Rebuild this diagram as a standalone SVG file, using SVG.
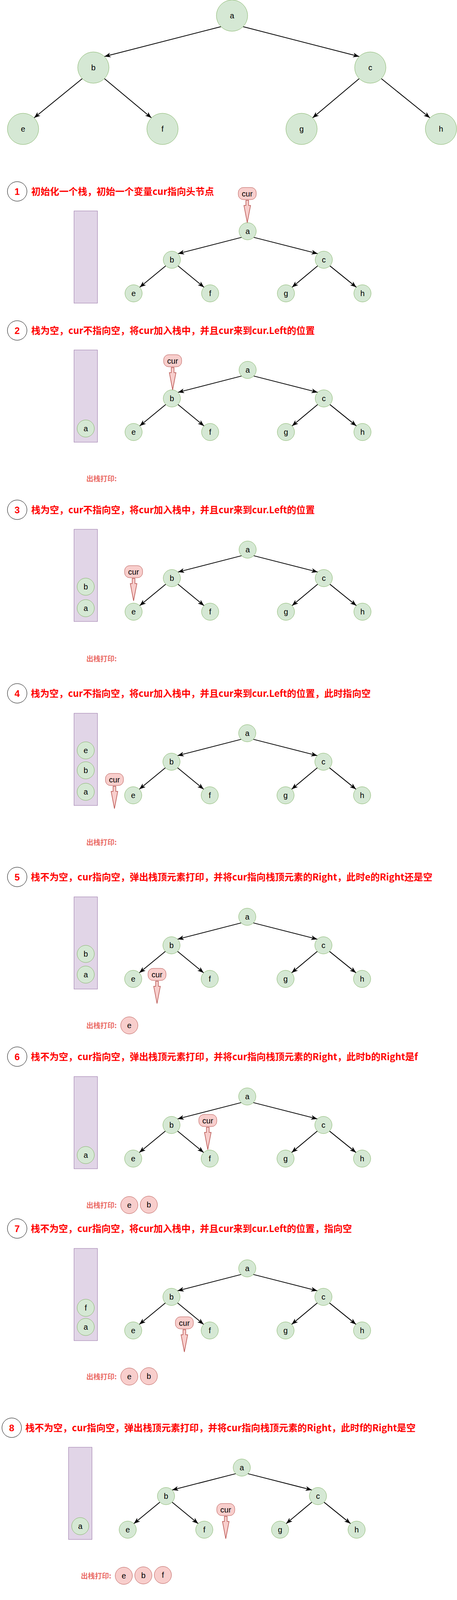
<svg xmlns="http://www.w3.org/2000/svg" width="1170" height="5501" viewBox="0 0 1170 5501">
<defs>
<style>
.n{fill:#d5e8d4;stroke:#82b366;stroke-width:1}
.p{fill:#f8cecc;stroke:#b85450;stroke-width:1}
.stk{fill:#e1d5e7;stroke:#9673a6;stroke-width:1}
.lbl{font-family:"Liberation Sans",Arial,sans-serif;font-size:20px;text-anchor:middle;fill:#000}
.ttl{font-family:"Noto Sans CJK SC","Noto Sans",sans-serif;font-weight:bold;font-size:24px;fill:#ff0000}
.num{font-family:"Liberation Sans",Arial,sans-serif;font-weight:bold;font-size:24px;fill:#ff0000;text-anchor:middle}
.nc{fill:#fff;stroke:#000;stroke-width:1}
.out{font-family:"Noto Sans CJK SC","Noto Sans",sans-serif;font-weight:bold;font-size:18px;fill:#ea6b66}
.e{stroke:#000;stroke-width:2;fill:none;marker-end:url(#arr)}
.ca{fill:#f8cecc;stroke:#b85450;stroke-width:1.5}
</style>
<marker id="arr" markerUnits="userSpaceOnUse" markerWidth="16" markerHeight="12" viewBox="0 0 16 12" refX="16" refY="6" orient="auto"><path d="M0,0 L16,6 L0,12 L4.5,6 Z" fill="#000"/></marker>
</defs>
<rect x="0" y="0" width="1170" height="5501" fill="#fff"/>

<!-- Big tree -->
<g id="big-tree">
<g id="big-edges">
<path class="e" d="M565.7,68.3 L267.3,144.7"/>
<path class="e" d="M622.3,68.3 L919.7,144.7"/>
<path class="e" d="M210.7,201.3 L87.3,301.7"/>
<path class="e" d="M267.3,201.3 L387.7,301.7"/>
<path class="e" d="M919.7,201.3 L800.3,301.7"/>
<path class="e" d="M976.3,201.3 L1100.7,301.7"/>
</g>
<g id="big-a"><circle class="n" cx="594" cy="40" r="40"/><text class="lbl" x="594" y="47">a</text></g>
<g id="big-b"><circle class="n" cx="239" cy="173" r="40"/><text class="lbl" x="239" y="180">b</text></g>
<g id="big-c"><circle class="n" cx="948" cy="173" r="40"/><text class="lbl" x="948" y="180">c</text></g>
<g id="big-e"><circle class="n" cx="59" cy="330" r="40"/><text class="lbl" x="59" y="337">e</text></g>
<g id="big-f"><circle class="n" cx="416" cy="330" r="40"/><text class="lbl" x="416" y="337">f</text></g>
<g id="big-g"><circle class="n" cx="772" cy="330" r="40"/><text class="lbl" x="772" y="337">g</text></g>
<g id="big-h"><circle class="n" cx="1129" cy="330" r="40"/><text class="lbl" x="1129" y="337">h</text></g>
</g>

<!-- STEP 1 -->
<g id="step1">
<g id="s1-title"><circle class="nc" cx="44" cy="490" r="25"/><text class="num" x="44" y="498.5">1</text><text class="ttl" x="80" y="499" textLength="468" lengthAdjust="spacingAndGlyphs">初始化一个栈，初始一个变量cur指向头节点</text></g>
<g id="s1-stack"><rect class="stk" x="189.5" y="540" width="60" height="236"/></g>
<g id="s1-tree" transform="translate(634,592)">
<g id="s1-edges">
<path class="e" d="M-15.6,15.6 L-178.4,57.4"/><path class="e" d="M15.6,15.6 L179.4,57.4"/>
<path class="e" d="M-209.6,88.6 L-276.4,143.4"/><path class="e" d="M-178.4,88.6 L-111.6,143.4"/>
<path class="e" d="M179.4,88.6 L113.6,143.4"/><path class="e" d="M210.6,88.6 L278.4,143.4"/>
</g>
<g id="s1-a"><circle class="n" cx="0" cy="0" r="22"/><text class="lbl" x="0" y="7">a</text></g>
<g id="s1-b"><circle class="n" cx="-194" cy="73" r="22"/><text class="lbl" x="-194" y="80">b</text></g>
<g id="s1-c"><circle class="n" cx="195" cy="73" r="22"/><text class="lbl" x="195" y="80">c</text></g>
<g id="s1-e"><circle class="n" cx="-292" cy="159" r="22"/><text class="lbl" x="-292" y="166">e</text></g>
<g id="s1-f"><circle class="n" cx="-96" cy="159" r="22"/><text class="lbl" x="-96" y="166">f</text></g>
<g id="s1-g"><circle class="n" cx="98" cy="159" r="22"/><text class="lbl" x="98" y="166">g</text></g>
<g id="s1-h"><circle class="n" cx="294" cy="159" r="22"/><text class="lbl" x="294" y="166">h</text></g>
</g>
<g id="s1-cur" transform="translate(633,480)"><rect class="p" x="-23" y="0" width="46" height="31" rx="13" stroke-width="1.5"/><text class="lbl" x="0" y="22.5">cur</text><path class="ca" d="M-3.5,33 L3.5,33 L3.5,46 L8.5,46 L0,90 L-8.5,46 L-3.5,46 Z"/></g>
</g>

<!-- STEP 2 -->
<g id="step2">
<g id="s2-title"><circle class="nc" cx="44" cy="846" r="25"/><text class="num" x="44" y="854.5">2</text><text class="ttl" x="80" y="855" textLength="726" lengthAdjust="spacingAndGlyphs">栈为空，cur不指向空，将cur加入栈中，并且cur来到cur.Left的位置</text></g>
<g id="s2-stack"><rect class="stk" x="189.5" y="896" width="60" height="236"/>
<g id="s2-stack-a"><circle class="n" cx="219.5" cy="1097" r="22"/><text class="lbl" x="219.5" y="1104">a</text></g></g>
<g id="s2-tree" transform="translate(634,947)">
<g id="s2-edges">
<path class="e" d="M-15.6,15.6 L-178.4,57.4"/><path class="e" d="M15.6,15.6 L179.4,57.4"/>
<path class="e" d="M-209.6,88.6 L-276.4,143.4"/><path class="e" d="M-178.4,88.6 L-111.6,143.4"/>
<path class="e" d="M179.4,88.6 L113.6,143.4"/><path class="e" d="M210.6,88.6 L278.4,143.4"/>
</g>
<g id="s2-a"><circle class="n" cx="0" cy="0" r="22"/><text class="lbl" x="0" y="7">a</text></g>
<g id="s2-b"><circle class="n" cx="-194" cy="73" r="22"/><text class="lbl" x="-194" y="80">b</text></g>
<g id="s2-c"><circle class="n" cx="195" cy="73" r="22"/><text class="lbl" x="195" y="80">c</text></g>
<g id="s2-e"><circle class="n" cx="-292" cy="159" r="22"/><text class="lbl" x="-292" y="166">e</text></g>
<g id="s2-f"><circle class="n" cx="-96" cy="159" r="22"/><text class="lbl" x="-96" y="166">f</text></g>
<g id="s2-g"><circle class="n" cx="98" cy="159" r="22"/><text class="lbl" x="98" y="166">g</text></g>
<g id="s2-h"><circle class="n" cx="294" cy="159" r="22"/><text class="lbl" x="294" y="166">h</text></g>
</g>
<g id="s2-cur" transform="translate(442,908)"><rect class="p" x="-23" y="0" width="46" height="31" rx="13" stroke-width="1.5"/><text class="lbl" x="0" y="22.5">cur</text><path class="ca" d="M-3.5,33 L3.5,33 L3.5,46 L8.5,46 L0,90 L-8.5,46 L-3.5,46 Z"/></g>
<g id="s2-out"><text class="out" x="221" y="1231.5">出栈打印:</text></g>
</g>

<!-- STEP 3 -->
<g id="step3">
<g id="s3-title"><circle class="nc" cx="44" cy="1305" r="25"/><text class="num" x="44" y="1313.5">3</text><text class="ttl" x="80" y="1314" textLength="726" lengthAdjust="spacingAndGlyphs">栈为空，cur不指向空，将cur加入栈中，并且cur来到cur.Left的位置</text></g>
<g id="s3-stack"><rect class="stk" x="189.5" y="1355" width="60" height="236"/>
<g id="s3-stack-b"><circle class="n" cx="219.5" cy="1502" r="22"/><text class="lbl" x="219.5" y="1509">b</text></g>
<g id="s3-stack-a"><circle class="n" cx="219.5" cy="1557" r="22"/><text class="lbl" x="219.5" y="1564">a</text></g></g>
<g id="s3-tree" transform="translate(634,1407)">
<g id="s3-edges">
<path class="e" d="M-15.6,15.6 L-178.4,57.4"/><path class="e" d="M15.6,15.6 L179.4,57.4"/>
<path class="e" d="M-209.6,88.6 L-276.4,143.4"/><path class="e" d="M-178.4,88.6 L-111.6,143.4"/>
<path class="e" d="M179.4,88.6 L113.6,143.4"/><path class="e" d="M210.6,88.6 L278.4,143.4"/>
</g>
<g id="s3-a"><circle class="n" cx="0" cy="0" r="22"/><text class="lbl" x="0" y="7">a</text></g>
<g id="s3-b"><circle class="n" cx="-194" cy="73" r="22"/><text class="lbl" x="-194" y="80">b</text></g>
<g id="s3-c"><circle class="n" cx="195" cy="73" r="22"/><text class="lbl" x="195" y="80">c</text></g>
<g id="s3-e"><circle class="n" cx="-292" cy="159" r="22"/><text class="lbl" x="-292" y="166">e</text></g>
<g id="s3-f"><circle class="n" cx="-96" cy="159" r="22"/><text class="lbl" x="-96" y="166">f</text></g>
<g id="s3-g"><circle class="n" cx="98" cy="159" r="22"/><text class="lbl" x="98" y="166">g</text></g>
<g id="s3-h"><circle class="n" cx="294" cy="159" r="22"/><text class="lbl" x="294" y="166">h</text></g>
</g>
<g id="s3-cur" transform="translate(342,1448)"><rect class="p" x="-23" y="0" width="46" height="31" rx="13" stroke-width="1.5"/><text class="lbl" x="0" y="22.5">cur</text><path class="ca" d="M-3.5,33 L3.5,33 L3.5,46 L8.5,46 L0,90 L-8.5,46 L-3.5,46 Z"/></g>
<g id="s3-out"><text class="out" x="221" y="1692.5">出栈打印:</text></g>
</g>

<!-- STEP 4 -->
<g id="step4">
<g id="s4-title"><circle class="nc" cx="44" cy="1775" r="25"/><text class="num" x="44" y="1783.5">4</text><text class="ttl" x="79" y="1784" textLength="870" lengthAdjust="spacingAndGlyphs">栈为空，cur不指向空，将cur加入栈中，并且cur来到cur.Left的位置，此时指向空</text></g>
<g id="s4-stack"><rect class="stk" x="189.5" y="1826" width="60" height="236"/>
<g id="s4-stack-e"><circle class="n" cx="219.5" cy="1921" r="22"/><text class="lbl" x="219.5" y="1928">e</text></g>
<g id="s4-stack-b"><circle class="n" cx="219.5" cy="1972" r="22"/><text class="lbl" x="219.5" y="1979">b</text></g>
<g id="s4-stack-a"><circle class="n" cx="219.5" cy="2027" r="22"/><text class="lbl" x="219.5" y="2034">a</text></g></g>
<g id="s4-tree" transform="translate(633,1877)">
<g id="s4-edges">
<path class="e" d="M-15.6,15.6 L-178.4,57.4"/><path class="e" d="M15.6,15.6 L179.4,57.4"/>
<path class="e" d="M-209.6,88.6 L-276.4,143.4"/><path class="e" d="M-178.4,88.6 L-111.6,143.4"/>
<path class="e" d="M179.4,88.6 L113.6,143.4"/><path class="e" d="M210.6,88.6 L278.4,143.4"/>
</g>
<g id="s4-a"><circle class="n" cx="0" cy="0" r="22"/><text class="lbl" x="0" y="7">a</text></g>
<g id="s4-b"><circle class="n" cx="-194" cy="73" r="22"/><text class="lbl" x="-194" y="80">b</text></g>
<g id="s4-c"><circle class="n" cx="195" cy="73" r="22"/><text class="lbl" x="195" y="80">c</text></g>
<g id="s4-e"><circle class="n" cx="-292" cy="159" r="22"/><text class="lbl" x="-292" y="166">e</text></g>
<g id="s4-f"><circle class="n" cx="-96" cy="159" r="22"/><text class="lbl" x="-96" y="166">f</text></g>
<g id="s4-g"><circle class="n" cx="98" cy="159" r="22"/><text class="lbl" x="98" y="166">g</text></g>
<g id="s4-h"><circle class="n" cx="294" cy="159" r="22"/><text class="lbl" x="294" y="166">h</text></g>
</g>
<g id="s4-cur" transform="translate(293,1980)"><rect class="p" x="-23" y="0" width="46" height="31" rx="13" stroke-width="1.5"/><text class="lbl" x="0" y="22.5">cur</text><path class="ca" d="M-3.5,33 L3.5,33 L3.5,46 L8.5,46 L0,90 L-8.5,46 L-3.5,46 Z"/></g>
<g id="s4-out"><text class="out" x="221" y="2162.5">出栈打印:</text></g>
</g>

<!-- STEP 5 -->
<g id="step5">
<g id="s5-title"><circle class="nc" cx="44" cy="2245" r="25"/><text class="num" x="44" y="2253.5">5</text><text class="ttl" x="79" y="2254" textLength="1028" lengthAdjust="spacingAndGlyphs">栈不为空，cur指向空，弹出栈顶元素打印，并将cur指向栈顶元素的Right，此时e的Right还是空</text></g>
<g id="s5-stack"><rect class="stk" x="189.5" y="2296" width="60" height="236"/>
<g id="s5-stack-b"><circle class="n" cx="219.5" cy="2442" r="22"/><text class="lbl" x="219.5" y="2449">b</text></g>
<g id="s5-stack-a"><circle class="n" cx="219.5" cy="2495" r="22"/><text class="lbl" x="219.5" y="2502">a</text></g></g>
<g id="s5-tree" transform="translate(633,2347)">
<g id="s5-edges">
<path class="e" d="M-15.6,15.6 L-178.4,57.4"/><path class="e" d="M15.6,15.6 L179.4,57.4"/>
<path class="e" d="M-209.6,88.6 L-276.4,143.4"/><path class="e" d="M-178.4,88.6 L-111.6,143.4"/>
<path class="e" d="M179.4,88.6 L113.6,143.4"/><path class="e" d="M210.6,88.6 L278.4,143.4"/>
</g>
<g id="s5-a"><circle class="n" cx="0" cy="0" r="22"/><text class="lbl" x="0" y="7">a</text></g>
<g id="s5-b"><circle class="n" cx="-194" cy="73" r="22"/><text class="lbl" x="-194" y="80">b</text></g>
<g id="s5-c"><circle class="n" cx="195" cy="73" r="22"/><text class="lbl" x="195" y="80">c</text></g>
<g id="s5-e"><circle class="n" cx="-292" cy="159" r="22"/><text class="lbl" x="-292" y="166">e</text></g>
<g id="s5-f"><circle class="n" cx="-96" cy="159" r="22"/><text class="lbl" x="-96" y="166">f</text></g>
<g id="s5-g"><circle class="n" cx="98" cy="159" r="22"/><text class="lbl" x="98" y="166">g</text></g>
<g id="s5-h"><circle class="n" cx="294" cy="159" r="22"/><text class="lbl" x="294" y="166">h</text></g>
</g>
<g id="s5-cur" transform="translate(402,2479)"><rect class="p" x="-23" y="0" width="46" height="31" rx="13" stroke-width="1.5"/><text class="lbl" x="0" y="22.5">cur</text><path class="ca" d="M-3.5,33 L3.5,33 L3.5,46 L8.5,46 L0,90 L-8.5,46 L-3.5,46 Z"/></g>
<g id="s5-out"><text class="out" x="221" y="2631.5">出栈打印:</text>
<g id="s5-out-e"><circle class="p" cx="331" cy="2625" r="22"/><text class="lbl" x="331" y="2632">e</text></g></g>
</g>

<!-- STEP 6 -->
<g id="step6">
<g id="s6-title"><circle class="nc" cx="44" cy="2705" r="25"/><text class="num" x="44" y="2713.5">6</text><text class="ttl" x="79" y="2714" textLength="991" lengthAdjust="spacingAndGlyphs">栈不为空，cur指向空，弹出栈顶元素打印，并将cur指向栈顶元素的Right，此时b的Right是f</text></g>
<g id="s6-stack"><rect class="stk" x="189.5" y="2756" width="60" height="236"/>
<g id="s6-stack-a"><circle class="n" cx="219.5" cy="2957" r="22"/><text class="lbl" x="219.5" y="2964">a</text></g></g>
<g id="s6-tree" transform="translate(633,2807)">
<g id="s6-edges">
<path class="e" d="M-15.6,15.6 L-178.4,57.4"/><path class="e" d="M15.6,15.6 L179.4,57.4"/>
<path class="e" d="M-209.6,88.6 L-276.4,143.4"/><path class="e" d="M-178.4,88.6 L-111.6,143.4"/>
<path class="e" d="M179.4,88.6 L113.6,143.4"/><path class="e" d="M210.6,88.6 L278.4,143.4"/>
</g>
<g id="s6-a"><circle class="n" cx="0" cy="0" r="22"/><text class="lbl" x="0" y="7">a</text></g>
<g id="s6-b"><circle class="n" cx="-194" cy="73" r="22"/><text class="lbl" x="-194" y="80">b</text></g>
<g id="s6-c"><circle class="n" cx="195" cy="73" r="22"/><text class="lbl" x="195" y="80">c</text></g>
<g id="s6-e"><circle class="n" cx="-292" cy="159" r="22"/><text class="lbl" x="-292" y="166">e</text></g>
<g id="s6-f"><circle class="n" cx="-96" cy="159" r="22"/><text class="lbl" x="-96" y="166">f</text></g>
<g id="s6-g"><circle class="n" cx="98" cy="159" r="22"/><text class="lbl" x="98" y="166">g</text></g>
<g id="s6-h"><circle class="n" cx="294" cy="159" r="22"/><text class="lbl" x="294" y="166">h</text></g>
</g>
<g id="s6-cur" transform="translate(532,2853)"><rect class="p" x="-23" y="0" width="46" height="31" rx="13" stroke-width="1.5"/><text class="lbl" x="0" y="22.5">cur</text><path class="ca" d="M-3.5,33 L3.5,33 L3.5,46 L8.5,46 L0,90 L-8.5,46 L-3.5,46 Z"/></g>
<g id="s6-out"><text class="out" x="221" y="3091.5">出栈打印:</text>
<g id="s6-out-e"><circle class="p" cx="331" cy="3085" r="22"/><text class="lbl" x="331" y="3092">e</text></g>
<g id="s6-out-b"><circle class="p" cx="381" cy="3084" r="22"/><text class="lbl" x="381" y="3091">b</text></g></g>
</g>

<!-- STEP 7 -->
<g id="step7">
<g id="s7-title"><circle class="nc" cx="44" cy="3145" r="25"/><text class="num" x="44" y="3153.5">7</text><text class="ttl" x="79" y="3154" textLength="822" lengthAdjust="spacingAndGlyphs">栈不为空，cur指向空，将cur加入栈中，并且cur来到cur.Left的位置，指向空</text></g>
<g id="s7-stack"><rect class="stk" x="189.5" y="3196" width="60" height="236"/>
<g id="s7-stack-f"><circle class="n" cx="219.5" cy="3348" r="22"/><text class="lbl" x="219.5" y="3355">f</text></g>
<g id="s7-stack-a"><circle class="n" cx="219.5" cy="3397" r="22"/><text class="lbl" x="219.5" y="3404">a</text></g></g>
<g id="s7-tree" transform="translate(633,3247)">
<g id="s7-edges">
<path class="e" d="M-15.6,15.6 L-178.4,57.4"/><path class="e" d="M15.6,15.6 L179.4,57.4"/>
<path class="e" d="M-209.6,88.6 L-276.4,143.4"/><path class="e" d="M-178.4,88.6 L-111.6,143.4"/>
<path class="e" d="M179.4,88.6 L113.6,143.4"/><path class="e" d="M210.6,88.6 L278.4,143.4"/>
</g>
<g id="s7-a"><circle class="n" cx="0" cy="0" r="22"/><text class="lbl" x="0" y="7">a</text></g>
<g id="s7-b"><circle class="n" cx="-194" cy="73" r="22"/><text class="lbl" x="-194" y="80">b</text></g>
<g id="s7-c"><circle class="n" cx="195" cy="73" r="22"/><text class="lbl" x="195" y="80">c</text></g>
<g id="s7-e"><circle class="n" cx="-292" cy="159" r="22"/><text class="lbl" x="-292" y="166">e</text></g>
<g id="s7-f"><circle class="n" cx="-96" cy="159" r="22"/><text class="lbl" x="-96" y="166">f</text></g>
<g id="s7-g"><circle class="n" cx="98" cy="159" r="22"/><text class="lbl" x="98" y="166">g</text></g>
<g id="s7-h"><circle class="n" cx="294" cy="159" r="22"/><text class="lbl" x="294" y="166">h</text></g>
</g>
<g id="s7-cur" transform="translate(472,3371)"><rect class="p" x="-23" y="0" width="46" height="31" rx="13" stroke-width="1.5"/><text class="lbl" x="0" y="22.5">cur</text><path class="ca" d="M-3.5,33 L3.5,33 L3.5,46 L8.5,46 L0,90 L-8.5,46 L-3.5,46 Z"/></g>
<g id="s7-out"><text class="out" x="221" y="3530.5">出栈打印:</text>
<g id="s7-out-e"><circle class="p" cx="331" cy="3524" r="22"/><text class="lbl" x="331" y="3531">e</text></g>
<g id="s7-out-b"><circle class="p" cx="381" cy="3523" r="22"/><text class="lbl" x="381" y="3530">b</text></g></g>
</g>

<!-- STEP 8 -->
<g id="step8">
<g id="s8-title"><circle class="nc" cx="30" cy="3655" r="25"/><text class="num" x="30" y="3663.5">8</text><text class="ttl" x="65" y="3664" textLength="999" lengthAdjust="spacingAndGlyphs">栈不为空，cur指向空，弹出栈顶元素打印，并将cur指向栈顶元素的Right，此时f的Right是空</text></g>
<g id="s8-stack"><rect class="stk" x="175.5" y="3705" width="60" height="236"/>
<g id="s8-stack-a"><circle class="n" cx="205.5" cy="3907" r="22"/><text class="lbl" x="205.5" y="3914">a</text></g></g>
<g id="s8-tree" transform="translate(619,3757)">
<g id="s8-edges">
<path class="e" d="M-15.6,15.6 L-178.4,57.4"/><path class="e" d="M15.6,15.6 L179.4,57.4"/>
<path class="e" d="M-209.6,88.6 L-276.4,143.4"/><path class="e" d="M-178.4,88.6 L-111.6,143.4"/>
<path class="e" d="M179.4,88.6 L113.6,143.4"/><path class="e" d="M210.6,88.6 L278.4,143.4"/>
</g>
<g id="s8-a"><circle class="n" cx="0" cy="0" r="22"/><text class="lbl" x="0" y="7">a</text></g>
<g id="s8-b"><circle class="n" cx="-194" cy="73" r="22"/><text class="lbl" x="-194" y="80">b</text></g>
<g id="s8-c"><circle class="n" cx="195" cy="73" r="22"/><text class="lbl" x="195" y="80">c</text></g>
<g id="s8-e"><circle class="n" cx="-292" cy="159" r="22"/><text class="lbl" x="-292" y="166">e</text></g>
<g id="s8-f"><circle class="n" cx="-96" cy="159" r="22"/><text class="lbl" x="-96" y="166">f</text></g>
<g id="s8-g"><circle class="n" cx="98" cy="159" r="22"/><text class="lbl" x="98" y="166">g</text></g>
<g id="s8-h"><circle class="n" cx="294" cy="159" r="22"/><text class="lbl" x="294" y="166">h</text></g>
</g>
<g id="s8-cur" transform="translate(578,3849)"><rect class="p" x="-23" y="0" width="46" height="31" rx="13" stroke-width="1.5"/><text class="lbl" x="0" y="22.5">cur</text><path class="ca" d="M-3.5,33 L3.5,33 L3.5,46 L8.5,46 L0,90 L-8.5,46 L-3.5,46 Z"/></g>
<g id="s8-out"><text class="out" x="207" y="4040.5">出栈打印:</text>
<g id="s8-out-e"><circle class="p" cx="317" cy="4034" r="22"/><text class="lbl" x="317" y="4041">e</text></g>
<g id="s8-out-b"><circle class="p" cx="367" cy="4033" r="22"/><text class="lbl" x="367" y="4040">b</text></g>
<g id="s8-out-f"><circle class="p" cx="417" cy="4032" r="22"/><text class="lbl" x="417" y="4039">f</text></g></g>
</g>

<!-- STEP 9 -->
<g id="step9">
<g id="s9-title"><circle class="nc" cx="25" cy="4174" r="25"/><text class="num" x="25" y="4182.5">9</text><text class="ttl" x="60" y="4183" textLength="1000" lengthAdjust="spacingAndGlyphs">栈不为空，cur指向空，弹出栈顶元素打印，并将cur指向栈顶元素的Right，此时f的Right是空</text></g>
<g id="s9-stack"><rect class="stk" x="171" y="4225" width="60" height="236"/>
<g id="s9-stack-a"><circle class="n" cx="201" cy="4427" r="22"/><text class="lbl" x="201" y="4434">a</text></g></g>
<g id="s9-tree" transform="translate(614,4277)">
<g id="s9-edges">
<path class="e" d="M-15.6,15.6 L-178.4,57.4"/><path class="e" d="M15.6,15.6 L179.4,57.4"/>
<path class="e" d="M-209.6,88.6 L-276.4,143.4"/><path class="e" d="M-178.4,88.6 L-111.6,143.4"/>
<path class="e" d="M179.4,88.6 L113.6,143.4"/><path class="e" d="M210.6,88.6 L278.4,143.4"/>
</g>
<g id="s9-a"><circle class="n" cx="0" cy="0" r="22"/><text class="lbl" x="0" y="7">a</text></g>
<g id="s9-b"><circle class="n" cx="-194" cy="73" r="22"/><text class="lbl" x="-194" y="80">b</text></g>
<g id="s9-c"><circle class="n" cx="195" cy="73" r="22"/><text class="lbl" x="195" y="80">c</text></g>
<g id="s9-e"><circle class="n" cx="-292" cy="159" r="22"/><text class="lbl" x="-292" y="166">e</text></g>
<g id="s9-f"><circle class="n" cx="-96" cy="159" r="22"/><text class="lbl" x="-96" y="166">f</text></g>
<g id="s9-g"><circle class="n" cx="98" cy="159" r="22"/><text class="lbl" x="98" y="166">g</text></g>
<g id="s9-h"><circle class="n" cx="294" cy="159" r="22"/><text class="lbl" x="294" y="166">h</text></g>
</g>
<g id="s9-cur" transform="translate(573,4369)"><rect class="p" x="-23" y="0" width="46" height="31" rx="13" stroke-width="1.5"/><text class="lbl" x="0" y="22.5">cur</text><path class="ca" d="M-3.5,33 L3.5,33 L3.5,46 L8.5,46 L0,90 L-8.5,46 L-3.5,46 Z"/></g>
<g id="s9-out"><text class="out" x="202" y="4561.5">出栈打印:</text>
<g id="s9-out-e"><circle class="p" cx="312" cy="4555" r="22"/><text class="lbl" x="312" y="4562">e</text></g>
<g id="s9-out-b"><circle class="p" cx="362" cy="4554" r="22"/><text class="lbl" x="362" y="4561">b</text></g>
<g id="s9-out-f"><circle class="p" cx="412" cy="4553" r="22"/><text class="lbl" x="412" y="4560">f</text></g></g>
</g>

<!-- Brace -->
<g id="brace">
<path d="M329,5441 Q329,5450 338,5450 L545,5450 Q554,5450 554,5459 Q554,5450 563,5450 L771,5450 Q780,5450 780,5441" fill="none" stroke="#000" stroke-width="1.5"/>
<text class="out" x="560" y="5486.5" text-anchor="middle">先序遍历</text>
</g>
</svg>
